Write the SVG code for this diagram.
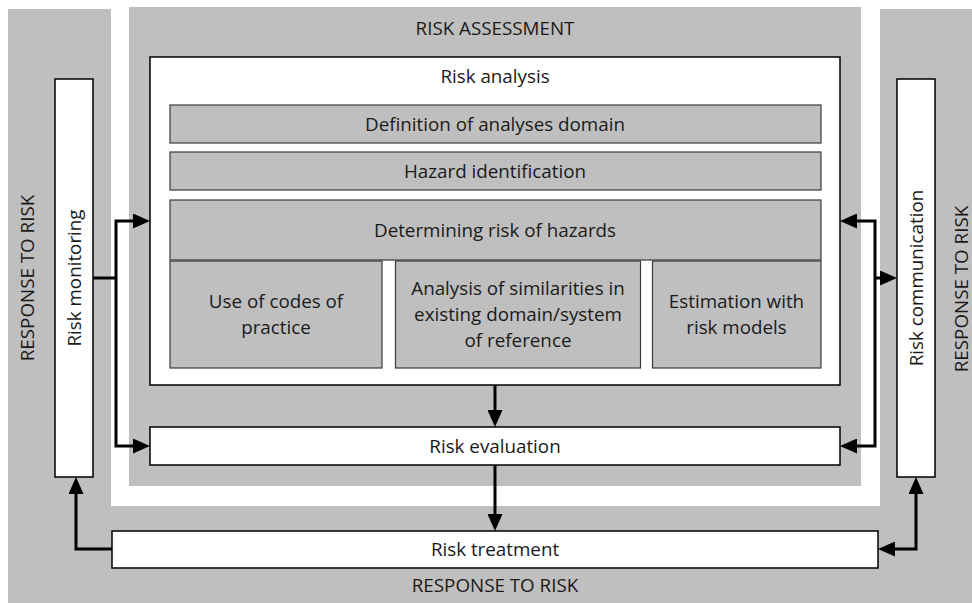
<svg xmlns="http://www.w3.org/2000/svg" width="972" height="603" viewBox="0 0 972 603">
<style>
  .panel { fill: #bfbfbf; stroke: none; }
  .box { fill: #ffffff; stroke: #000000; stroke-width: 1.5; }
  .bar { fill: #bfbfbf; stroke: #3a3a3a; stroke-width: 1.2; }
  .t { font-family: "Open Sans", "Liberation Sans", sans-serif; font-size: 18.8px; fill: #1a1a1a; text-anchor: middle; }
  .conn { fill: none; stroke: #000000; stroke-width: 3; stroke-linejoin: miter; }
  .arr { marker-end: url(#ah); }
  .arr2 { marker-start: url(#ah); marker-end: url(#ah); }
</style>
<defs>
  <marker id="ah" markerUnits="userSpaceOnUse" markerWidth="17" markerHeight="15" refX="7" refY="7.5" orient="auto-start-reverse" viewBox="0 0 17 15">
    <path d="M0,0 L17,7.5 L0,15 Z" fill="#000000"/>
  </marker>
</defs>

<g id="response-to-risk">
  <rect class="panel" x="8" y="9" width="964" height="594"/>
  <rect x="111" y="0" width="769" height="506" fill="#ffffff"/>
  <text class="t" transform="translate(33.8,278) rotate(-90)">RESPONSE TO RISK</text>
  <text class="t" transform="translate(967.5,289) rotate(-90)">RESPONSE TO RISK</text>
  <text class="t" x="495" y="592">RESPONSE TO RISK</text>
</g>

<g id="risk-assessment">
  <rect class="panel" x="129" y="7" width="732" height="479"/>
  <text class="t" x="495" y="35">RISK ASSESSMENT</text>
</g>

<g id="risk-analysis">
  <rect class="box" x="150" y="57" width="690" height="328"/>
  <text class="t" x="495" y="83">Risk analysis</text>
</g>

<g id="definition">
  <rect class="bar" x="170" y="105" width="651" height="38"/>
  <text class="t" x="495" y="130.8">Definition of analyses domain</text>
</g>

<g id="hazard-identification">
  <rect class="bar" x="170" y="152" width="651" height="38"/>
  <text class="t" x="495" y="177.8">Hazard identification</text>
</g>

<g id="determining-risk">
  <rect class="bar" x="170" y="200" width="651" height="60"/>
  <text class="t" x="495" y="236.8">Determining risk of hazards</text>
</g>

<g id="codes-of-practice">
  <rect class="bar" x="170" y="261" width="212" height="107"/>
  <text class="t" x="276" y="308.3">Use of codes of</text>
  <text class="t" x="276" y="334.3">practice</text>
</g>

<g id="similarities">
  <rect class="bar" x="395.5" y="261" width="245" height="107"/>
  <text class="t" x="518" y="295.3">Analysis of similarities in</text>
  <text class="t" x="518" y="321.3">existing domain/system</text>
  <text class="t" x="518" y="347.3">of reference</text>
</g>

<g id="risk-models">
  <rect class="bar" x="652.5" y="261" width="168.5" height="107"/>
  <text class="t" x="736.5" y="308.3">Estimation with</text>
  <text class="t" x="736.5" y="334.3">risk models</text>
</g>

<g id="risk-evaluation">
  <rect class="box" x="150" y="427" width="690" height="38"/>
  <text class="t" x="495" y="452.8">Risk evaluation</text>
</g>

<g id="risk-treatment">
  <rect class="box" x="112" y="531" width="766" height="37"/>
  <text class="t" x="495" y="556">Risk treatment</text>
</g>

<g id="risk-monitoring">
  <rect class="box" x="55" y="79" width="38" height="398"/>
  <text class="t" transform="translate(80.8,278) rotate(-90)">Risk monitoring</text>
</g>

<g id="risk-communication">
  <rect class="box" x="897" y="79" width="38" height="398"/>
  <text class="t" transform="translate(923.3,278) rotate(-90)">Risk communication</text>
</g>

<g id="connectors">
  <path class="conn" d="M93,278 H116"/>
  <path class="conn arr2" d="M140,221 H116 V446 H140"/>
  <path class="conn arr2" d="M850,221 H875 V446 H850"/>
  <path class="conn arr" d="M875,278 H887"/>
  <path class="conn arr" d="M495,385 V417"/>
  <path class="conn arr" d="M495,465 V521"/>
  <path class="conn arr" d="M112,549 H76 V487"/>
  <path class="conn arr2" d="M888,549 H916 V487"/>
</g>
</svg>
